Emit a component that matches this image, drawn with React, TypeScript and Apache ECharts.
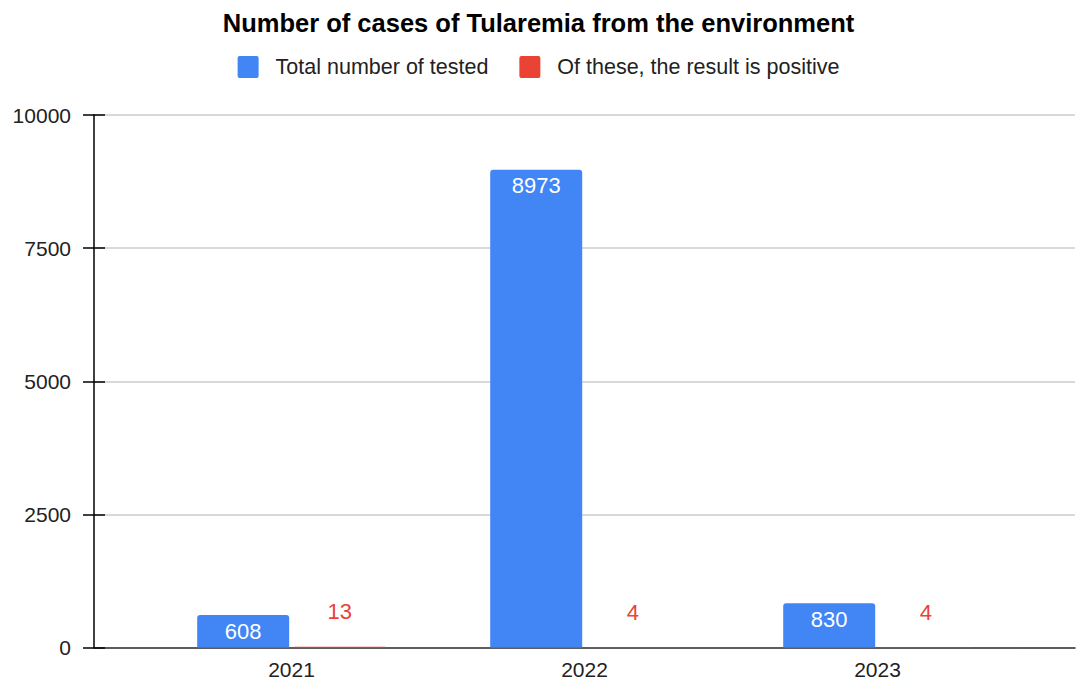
import React, { useEffect, useRef } from "react";
import * as echarts from "echarts";

const years = [2021, 2022, 2023];
const totalTested = [608, 8973, 830];
const positive = [13, 4, 4];
const yTicks = [0, 2500, 5000, 7500, 10000];
const seriesNames = ["Total number of tested", "Of these, the result is positive"];

const FONT = "Arial, 'Liberation Sans', sans-serif";
const ICON = "path://M2,0H19Q21,0 21,2V20Q21,22 19,22H2Q0,22 0,20V2Q0,0 2,0Z";

export default function App() {
  const ref = useRef<HTMLDivElement>(null);
  useEffect(() => {
    if (!ref.current) return;
    const chart = echarts.init(ref.current, undefined, { renderer: "svg" });
    const yMax = yTicks[yTicks.length - 1];
    const yInterval = yTicks[1] - yTicks[0];
    chart.setOption({
      animation: false,
      backgroundColor: "#ffffff",
      title: {
        text: "Number of cases of Tularemia from the environment",
        left: "center",
        top: 5,
        textStyle: { fontFamily: FONT, fontSize: 25.5, fontWeight: "bold", color: "#000" },
      },
      legend: {
        top: 51,
        left: "center",
        icon: ICON,
        itemWidth: 21,
        itemHeight: 22,
        itemGap: 31,
        textStyle: { fontFamily: FONT, fontSize: 21.5, color: "#222", padding: [0, 0, 0, 12] },
        data: seriesNames,
      },
      grid: { left: 94, right: 2, top: 115, bottom: 36.5, containLabel: false, outerBoundsMode: "none" },
      xAxis: {
        type: "value",
        min: years[0] - 0.674,
        max: years[years.length - 1] + 0.674,
        axisLine: { show: true, lineStyle: { color: "#333", width: 1.5 } },
        axisTick: { show: false },
        splitLine: { show: false },
        axisLabel: {
          customValues: years,
          formatter: (v: number) => String(Math.round(v)),
          fontFamily: FONT,
          fontSize: 21,
          color: "#222",
          margin: 11,
        },
      },
      yAxis: [
        {
          type: "value",
          min: 0,
          max: yMax,
          interval: yInterval,
          axisLine: { show: true, lineStyle: { color: "#000", width: 1.5 } },
          axisTick: { show: true, length: 11, lineStyle: { color: "#000", width: 1.5 } },
          splitLine: { show: true, lineStyle: { color: "#cccccc", width: 1.5 } },
          axisLabel: {
            fontFamily: FONT,
            fontSize: 21,
            color: "#222",
            margin: 23,
            formatter: (v: number) => String(v),
          },
        },
        {
          type: "value",
          min: 0,
          max: yMax,
          interval: yInterval,
          position: "left",
          offset: 0,
          axisLine: { show: false },
          axisTick: { show: true, inside: true, length: 11, lineStyle: { color: "#000", width: 1.5 } },
          splitLine: { show: false },
          axisLabel: { show: false },
        },
      ],
      series: [
        {
          name: seriesNames[0],
          type: "bar",
          barWidth: 92,
          barGap: "5%",
          itemStyle: { color: "#4285F4", borderRadius: [3, 3, 0, 0] },
          label: {
            show: true,
            position: "insideTop",
            distance: 5,
            color: "#ffffff",
            fontFamily: FONT,
            fontSize: 22,
          },
          data: years.map((y, i) => [y, totalTested[i]]),
        },
        {
          name: seriesNames[1],
          type: "bar",
          barWidth: 92,
          barGap: "5%",
          itemStyle: { color: "#EA4335", borderRadius: [3, 3, 0, 0] },
          label: {
            show: true,
            position: "top",
            distance: 24,
            color: "#EA4335",
            fontFamily: FONT,
            fontSize: 22,
          },
          data: years.map((y, i) => [y, positive[i]]),
        },
      ],
    });
    return () => chart.dispose();
  }, []);
  return (
    <div
      ref={ref}
      style={{ position: "absolute", left: 0, top: 0, width: 1077, height: 684 }}
    />
  );
}
